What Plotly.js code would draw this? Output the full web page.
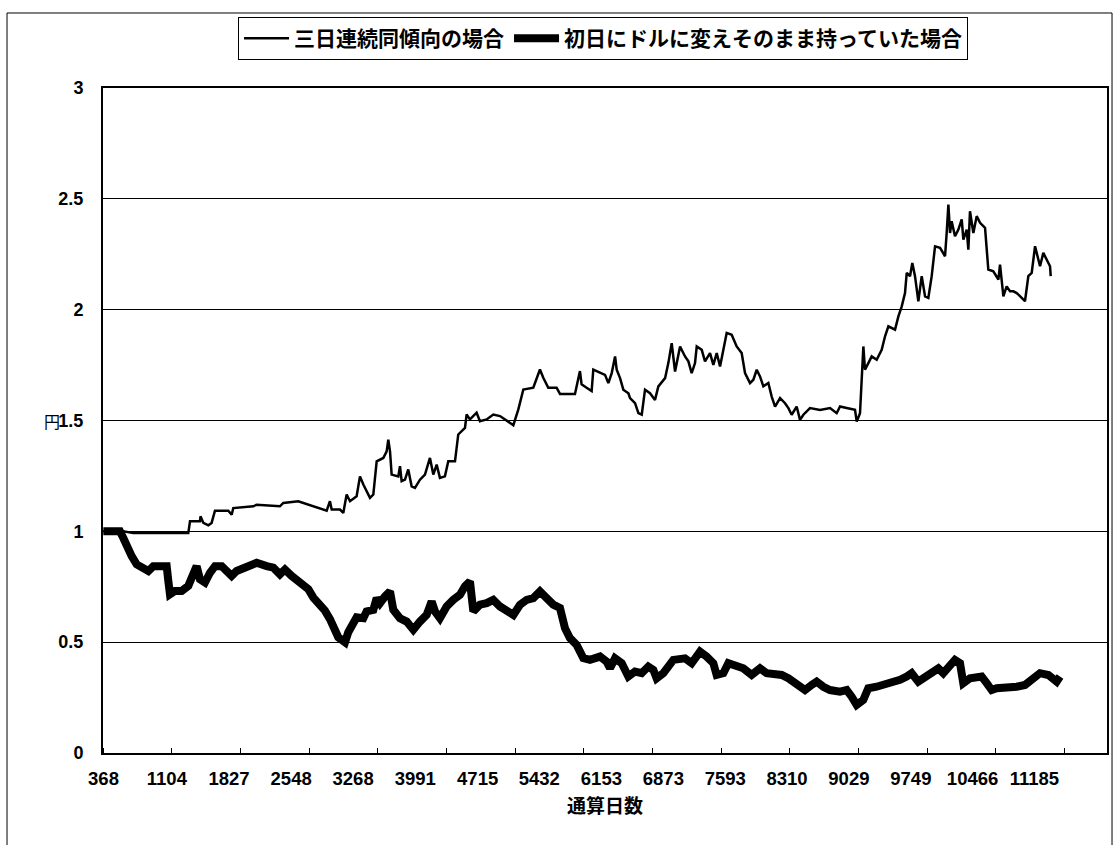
<!DOCTYPE html>
<html><head><meta charset="utf-8">
<script src="https://cdn.plot.ly/plotly-3.0.1.min.js"></script>
<style>html,body{margin:0;padding:0;background:#fff}#chart{width:1117px;height:845px}</style>
</head><body><div id="chart"></div><script>
// 通算日数 tick labels
const tickDays = [368,1104,1827,2548,3268,3991,4715,5432,6153,6873,7593,8310,9029,9749,10466,11185];
const tickLabels = tickDays.map(String);

const seriesNames = ['三日連続同傾向の場合','初日にドルに変えそのまま持っていた場合'];

// Series 1: 三日連続同傾向の場合 (thin)
const trendDays = [
 366,598,714,1353,1373,1489,1495,1528,1586,1624,
 1663,1818,1857,1876,2109,2147,2418,2457,2631,2728,
 2883,2961,2999,3019,3116,3154,3193,3232,3309,3348,
 3387,3425,3464,3503,3542,3619,3658,3677,3697,3716,
 3793,3813,3832,3871,3909,3948,3987,4045,4103,4161,
 4200,4239,4277,4335,4374,4452,4490,4568,4587,4626,
 4703,4742,4820,4897,4975,5130,5188,5246,5362,5439,
 5478,5536,5633,5672,5846,5904,5923,5981,6040,6059,
 6137,6195,6234,6273,6312,6331,6370,6408,6467,6486,
 6544,6583,6622,6660,6718,6776,6815,6893,6931,6970,
 7009,7067,7125,7164,7202,7241,7261,7319,7357,7415,
 7454,7493,7532,7570,7609,7667,7725,7783,7822,7880,
 7919,7958,7996,8035,8093,8132,8171,8229,8287,8326,
 8364,8422,8461,8500,8577,8694,8810,8887,8926,9003,
 9100,9120,9158,9197,9216,9255,9294,9352,9410,9449,
 9488,9565,9604,9643,9681,9701,9739,9766,9797,9836,
 9875,9914,9952,9991,10030,10088,10146,10165,10185,10204,
 10223,10262,10301,10340,10359,10398,10417,10436,10475,10514,
 10553,10611,10649,10707,10766,10785,10824,10862,10901,10940,
 10979,11037,11075,11114,11153,11192,11230,11250,11288,11327,
 11366,11374
];
const trendYen = [
 1.000,1.000,0.992,0.992,1.045,1.045,1.068,1.038,1.027,1.038,
 1.093,1.093,1.075,1.105,1.113,1.120,1.113,1.128,1.136,1.123,
 1.105,1.093,1.136,1.098,1.098,1.083,1.166,1.136,1.158,1.248,
 1.211,1.181,1.151,1.166,1.316,1.331,1.361,1.414,1.361,1.256,
 1.248,1.294,1.226,1.233,1.279,1.203,1.196,1.233,1.256,1.331,
 1.256,1.301,1.241,1.248,1.316,1.316,1.437,1.467,1.527,1.505,
 1.535,1.497,1.505,1.527,1.520,1.479,1.550,1.640,1.648,1.730,
 1.693,1.648,1.648,1.620,1.620,1.723,1.663,1.648,1.633,1.730,
 1.718,1.706,1.669,1.714,1.789,1.729,1.691,1.639,1.623,1.601,
 1.578,1.533,1.526,1.639,1.623,1.593,1.654,1.691,1.759,1.849,
 1.721,1.834,1.789,1.767,1.714,1.759,1.834,1.819,1.767,1.804,
 1.751,1.804,1.744,1.812,1.895,1.887,1.834,1.804,1.714,1.669,
 1.684,1.729,1.699,1.654,1.669,1.608,1.563,1.601,1.578,1.556,
 1.526,1.563,1.503,1.526,1.556,1.548,1.556,1.533,1.563,1.556,
 1.548,1.495,1.533,1.834,1.729,1.759,1.789,1.774,1.819,1.880,
 1.925,1.910,1.970,2.015,2.075,2.166,2.151,2.211,2.151,2.038,
 2.151,2.060,2.053,2.151,2.286,2.279,2.241,2.346,2.474,2.346,
 2.399,2.331,2.361,2.407,2.316,2.361,2.271,2.444,2.346,2.422,
 2.392,2.369,2.181,2.173,2.136,2.203,2.060,2.105,2.083,2.083,
 2.075,2.053,2.038,2.151,2.166,2.286,2.226,2.196,2.256,2.226,
 2.196,2.151
];

// Series 2: 初日にドルに変えそのまま持っていた場合 (thick)
const holdDays = [
 366,559,598,637,695,753,830,889,947,1102,
 1121,1140,1198,1276,1353,1392,1450,1489,1547,1605,
 1663,1741,1799,1857,1915,2031,2147,2264,2341,2418,
 2476,2554,2651,2748,2806,2883,2941,2999,3038,3096,
 3174,3212,3309,3387,3425,3503,3542,3580,3638,3697,
 3735,3813,3890,3968,4045,4123,4181,4219,4277,4355,
 4432,4510,4568,4626,4665,4742,4820,4897,4975,5052,
 5130,5207,5285,5362,5439,5517,5594,5672,5730,5788,
 5865,5943,6020,6137,6214,6253,6311,6389,6466,6543,
 6621,6698,6756,6795,6873,6989,7066,7124,7202,7299,
 7376,7454,7492,7570,7628,7725,7802,7899,7996,8073,
 8151,8248,8325,8383,8461,8519,8596,8654,8732,8809,
 8925,9003,9061,9119,9196,9254,9351,9448,9545,9623,
 9700,9758,9835,9913,9990,10068,10126,10203,10261,10320,
 10358,10436,10513,10571,10630,10688,10746,10823,10901,10978,
 11075,11133,11249,11346,11404,11443,11482
];
const holdYen = [
 1.000,1.000,0.970,0.933,0.888,0.851,0.836,0.821,0.843,0.843,
 0.776,0.716,0.731,0.731,0.754,0.791,0.843,0.784,0.769,0.813,
 0.843,0.843,0.821,0.799,0.821,0.843,0.858,0.843,0.836,0.806,
 0.828,0.799,0.769,0.739,0.701,0.672,0.642,0.604,0.575,0.522,
 0.500,0.545,0.612,0.608,0.639,0.646,0.699,0.676,0.706,0.729,
 0.646,0.608,0.593,0.556,0.593,0.623,0.684,0.639,0.608,0.661,
 0.691,0.714,0.752,0.774,0.639,0.669,0.676,0.691,0.661,0.646,
 0.623,0.669,0.691,0.699,0.729,0.699,0.669,0.654,0.563,0.518,
 0.488,0.428,0.420,0.435,0.412,0.382,0.427,0.405,0.345,0.367,
 0.360,0.390,0.375,0.337,0.360,0.420,0.420,0.427,0.405,0.457,
 0.435,0.405,0.352,0.360,0.405,0.397,0.382,0.352,0.382,0.360,
 0.360,0.352,0.337,0.322,0.299,0.284,0.307,0.322,0.299,0.284,
 0.277,0.284,0.254,0.217,0.239,0.292,0.299,0.307,0.315,0.330,
 0.345,0.360,0.322,0.345,0.360,0.382,0.360,0.397,0.420,0.405,
 0.315,0.337,0.345,0.345,0.315,0.284,0.292,0.292,0.299,0.299,
 0.307,0.322,0.360,0.352,0.337,0.322,0.345
];

const jp = '"Noto Sans CJK JP", "Noto Sans CJK SC", sans-serif';
const traces = [
  {type:'scatter', mode:'lines', name:seriesNames[0], x:trendDays, y:trendYen,
   line:{color:'#000', width:2.5}},
  {type:'scatter', mode:'lines', name:seriesNames[1], x:holdDays, y:holdYen,
   line:{color:'#000', width:8}}
];

const layout = {
  width:1117, height:845,
  margin:{l:103, r:10, t:88, b:92},
  paper_bgcolor:'#fff', plot_bgcolor:'#fff',
  font:{family:'"Liberation Sans", Arial, sans-serif', color:'#000'},
  showlegend:true,
  legend:{orientation:'h', x:0.1345, xanchor:'left', y:1.1068, yanchor:'top',
    bgcolor:'#fff', bordercolor:'#000', borderwidth:1, itemwidth:45,
    traceorder:'normal', font:{family:jp, size:21, weight:'bold', color:'#000'}},
  xaxis:{type:'linear', range:[362,12028], tickmode:'array', tickvals:tickDays, ticktext:tickLabels,
    ticks:'', showgrid:false, zeroline:false, showline:true, linecolor:'#000', linewidth:2, mirror:true,
    tickfont:{size:18.5, weight:'bold'}, ticklabelstandoff:8,
    minor:{tickmode:'linear', tick0:362, dtick:798, ticks:'inside', ticklen:5, tickwidth:1, tickcolor:'#000', showgrid:false},
    title:{text:'通算日数', font:{family:jp, size:19, weight:'bold'}, standoff:11}},
  yaxis:{range:[0,3], tickmode:'linear', tick0:0, dtick:0.5, showgrid:true, gridcolor:'#000', gridwidth:1,
    zeroline:false, showline:true, linecolor:'#000', linewidth:2, mirror:true, ticks:'',
    tickfont:{size:18, weight:'bold'}, ticklabelstandoff:14},
  annotations:[{text:'円', xref:'paper', yref:'y', x:-0.0605, y:1.5, showarrow:false,
    font:{family:jp, size:16, color:'#000'}}],
  shapes:[{type:'rect', xref:'paper', yref:'paper', x0:-0.0956, x1:1.005, y0:-0.14, y1:1.1128,
    line:{color:'#000', width:1}, fillcolor:'rgba(0,0,0,0)', layer:'below'}]
};

Plotly.newPlot('chart', traces, layout, {displayModeBar:false, staticPlot:true});
</script></body></html>
